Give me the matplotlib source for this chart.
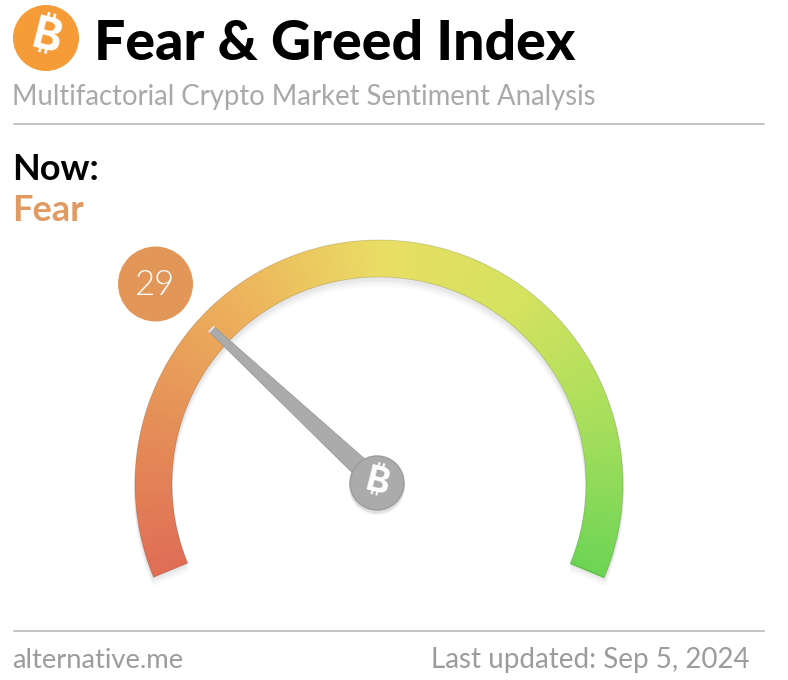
import numpy as np
from matplotlib import pyplot as plt
from matplotlib import patches
from matplotlib.colors import LinearSegmentedColormap

plt.rcParams['font.family'] = ['Lato', 'DejaVu Sans']
coin_fonts = ['Inter', 'Roboto', 'Noto Sans', 'Open Sans', 'Liberation Sans', 'DejaVu Sans']

# values
value = 29
scale_min = 0
scale_max = 100
label_now = "Now:"
label_state = "Fear"
title = "Fear & Greed Index"
subtitle = "Multifactorial Crypto Market Sentiment Analysis"
footer_left = "alternative.me"
footer_right = "Last updated: Sep 5, 2024"

# colours along the gauge, left to right
gauge_colors = ["#DF6E55", "#E58F58", "#EDB35C", "#E9DE64", "#D4E25F", "#A6DE5C", "#6DD455"]

cx, cy = 379, 484
r_out, r_in = 244, 207
a_start, a_end = 202.5, -22.5


def to_angle(v):
    return a_start + (v - scale_min) / (scale_max - scale_min) * (a_end - a_start)


def ring(v0, v1, dx=0, dy=0, ro=r_out, ri=r_in, n=12):
    t = np.radians(np.linspace(to_angle(v0), to_angle(v1), n))
    xo = cx + dx + ro * np.cos(t)
    yo = cy + dy - ro * np.sin(t)
    xi = cx + dx + ri * np.cos(t[::-1])
    yi = cy + dy - ri * np.sin(t[::-1])
    return np.column_stack([np.r_[xo, xi], np.r_[yo, yi]])


fig = plt.figure(figsize=(7.88, 6.8), dpi=100)
ax = fig.add_axes([0, 0, 1, 1])
ax.set_xlim(0, 788)
ax.set_ylim(680, 0)
ax.axis("off")

# header
ax.add_patch(patches.Circle((46, 38), 33, fc="#F59B38", ec="none"))
ax.text(46, 38, "\u20bf", color="white", fontsize=32, fontweight="bold", rotation=-14,
        ha="center", va="center", family=coin_fonts)
ax.text(94, 60, title, fontsize=39.9, fontweight=900, color="black", ha="left", va="baseline")
ax.text(12.5, 105.5, subtitle, fontsize=19.8, color="#A9A9A9", ha="left", va="baseline")
ax.plot([14, 764], [124, 124], color="#B5B5B5", lw=1.1)

ax.text(12.5, 180, label_now, fontsize=26, fontweight="bold", color="black", ha="left", va="baseline")
ax.text(12.5, 221, label_state, fontsize=26, fontweight="bold", color="#E09A62", ha="left", va="baseline")

# soft shadow under the ring
for off, al in [(9, 0.015), (7, 0.02), (5, 0.025), (3, 0.03)]:
    ax.add_patch(patches.Polygon(ring(scale_min, scale_max, dy=off, ro=r_out + 1, ri=r_in - 1, n=300),
                                 fc="black", ec="none", alpha=al, zorder=1))

# ring, drawn in small pieces for the colour ramp
cmap = LinearSegmentedColormap.from_list("gauge", gauge_colors)
edges = np.linspace(scale_min, scale_max, 201)
for v0, v1 in zip(edges[:-1], edges[1:]):
    c = cmap((v0 - scale_min) / (scale_max - scale_min))
    ax.add_patch(patches.Polygon(ring(v0, v1 + 0.1), fc=c, ec="none", zorder=2))

# thin darker rim on the ring
ax.add_patch(patches.Polygon(ring(scale_min, scale_max, n=300), fc="none", ec="black", lw=0.7, alpha=0.13, zorder=2.5))

# needle
hub = (377, 483)
t = np.radians(to_angle(value))
ux, uy = np.cos(t), -np.sin(t)
nx, ny = -uy, ux
tip_x, tip_y = cx + 228 * ux, cy + 228 * uy
needle = [(hub[0] + 10 * nx, hub[1] + 10 * ny), (tip_x + 3.5 * nx, tip_y + 3.5 * ny),
          (tip_x - 3.5 * nx, tip_y - 3.5 * ny), (hub[0] - 10 * nx, hub[1] - 10 * ny)]
ax.add_patch(patches.Polygon(needle, fc="#ABABAB", ec="#9A9A9A", lw=0.6, zorder=3))
ax.plot([tip_x - 3 * nx, tip_x + 3 * nx], [tip_y - 3 * ny, tip_y + 3 * ny], color="#E4E4E4", lw=1.5, zorder=4)

for off, al in [(4, 0.05), (2.5, 0.08)]:
    ax.add_patch(patches.Circle((hub[0], hub[1] + off), 28, fc="black", ec="none", alpha=al, zorder=4))
ax.add_patch(patches.Circle(hub, 27, fc="#ABABAB", ec="#9C9C9C", lw=1, zorder=5))
ax.text(hub[0], hub[1], "\u20bf", color="white", fontsize=26, fontweight="bold", rotation=-14,
        ha="center", va="center", family=coin_fonts, zorder=6)

# value badge
ax.add_patch(patches.Circle((155.5, 284), 37.5, fc="#E29758", ec="none", zorder=5))
ax.text(155.5, 285, str(value), color="white", fontsize=25, fontweight=300,
        ha="center", va="center", zorder=6)

# footer
ax.plot([14, 764], [631, 631], color="#B5B5B5", lw=1.1)
ax.text(12.5, 668, footer_left, fontsize=19.7, color="#9C9C9C", ha="left", va="baseline")
ax.text(749.5, 668, footer_right, fontsize=20, color="#9C9C9C", ha="right", va="baseline")

fig.savefig("out.png", dpi=100)
